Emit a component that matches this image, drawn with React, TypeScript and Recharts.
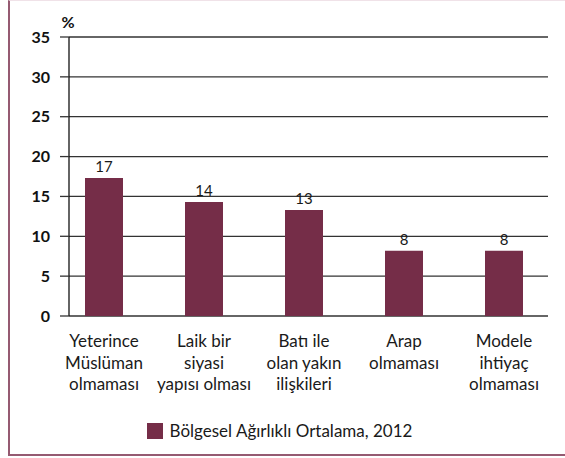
import React from 'react';
import { BarChart, Bar, XAxis, YAxis, CartesianGrid, Legend, LabelList } from 'recharts';

const categories: string[][] = [
  ['Yeterince', 'Müslüman', 'olmaması'],
  ['Laik bir', 'siyasi', 'yapısı olması'],
  ['Batı ile', 'olan yakın', 'ilişkileri'],
  ['Arap', 'olmaması'],
  ['Modele', 'ihtiyaç', 'olmaması'],
];
const values: number[] = [17.3, 14.3, 13.3, 8.2, 8.2];
const yTicks: number[] = [0, 5, 10, 15, 20, 25, 30, 35];
const seriesName = 'Bölgesel Ağırlıklı Ortalama, 2012';

const data = categories.map((lines, i) => ({ idx: i, name: lines.join(' '), value: values[i] }));

const BAR = '#752D48';
const FONT = 'Lato, "Noto Sans", sans-serif';

const XTick = (props: any) => {
  const { x, y, payload } = props;
  const lines = categories[payload.value] || [];
  return (
    <g transform={`translate(${x},${y})`}>
      <text textAnchor="middle" fontFamily={FONT} fontSize={17} fill="#1a1a1a">
        {lines.map((l, k) => (
          <tspan key={k} x={0} dy={k === 0 ? 23 : 21.5}>{l}</tspan>
        ))}
      </text>
    </g>
  );
};

const LegendContent = () => (
  <div style={{ display: 'flex', justifyContent: 'center', alignItems: 'center', fontFamily: FONT, fontSize: 17, color: '#1a1a1a', paddingRight: 18 }}>
    <span style={{ display: 'inline-block', width: 16, height: 16, background: BAR, marginRight: 7 }} />
    <span>{seriesName}</span>
  </div>
);

export default function App() {
  return (
    <div style={{ position: 'absolute', left: 0, top: 0, width: 565, height: 458, background: '#fff' }}>
      <style>{`body{margin:0}`}</style>
      <div style={{ position: 'absolute', left: 8, top: 0, width: 600, height: 456, borderLeft: '2px solid #955a71', borderBottom: '2px solid #955a71', borderTop: '1px solid #f0e2e8', boxSizing: 'border-box' }} />
      <div style={{ position: 'absolute', left: 0, top: 0 }}>
        <BarChart width={565} height={458} data={data} margin={{ top: 37, right: 17, left: 29, bottom: 18 }}>
          <CartesianGrid vertical={false} stroke="#333" strokeWidth={1.3} />
          <XAxis
            dataKey="idx"
            type="number"
            domain={[-0.35, 4.44]}
            allowDataOverflow
            ticks={[0, 1, 2, 3, 4]}
            interval={0}
            axisLine={false}
            tickLine={false}
            height={104}
            tick={<XTick />}
          />
          <YAxis
            width={40}
            domain={[0, 35]}
            ticks={yTicks}
            interval={0}
            axisLine={{ stroke: '#111', strokeWidth: 1.3 }}
            tickLine={{ stroke: '#333', strokeWidth: 1.3 }}
            tickSize={9}
            tickMargin={10}
            tick={{ fontFamily: FONT, fontSize: 16, fontWeight: 700, fill: '#111' }}
            label={{ value: '%', position: 'top', offset: 9, dx: 19, style: { fontFamily: FONT, fontSize: 16, fontWeight: 700, fill: '#111' } }}
          />
          <Legend verticalAlign="bottom" height={20} content={<LegendContent />} />
          <Bar dataKey="value" name={seriesName} fill={BAR} barSize={38} isAnimationActive={false}>
            <LabelList dataKey="value" position="top" offset={6} formatter={(v: any) => Math.round(Number(v))} style={{ fontFamily: FONT, fontSize: 15, fill: '#1a1a1a' }} />
          </Bar>
        </BarChart>
      </div>
    </div>
  );
}
